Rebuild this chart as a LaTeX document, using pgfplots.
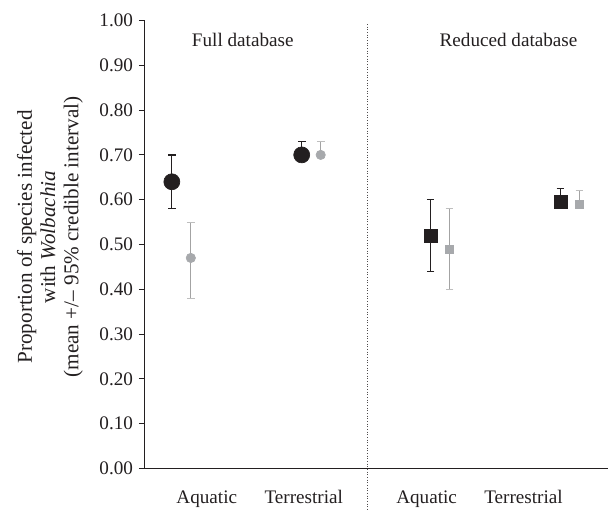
\documentclass[border=0pt]{standalone}
\usepackage{fontspec}
\setmainfont{Liberation Serif}
\usepackage{pgfplots}
\pgfplotsset{compat=1.18}

\definecolor{dark}{HTML}{231F20}
\definecolor{lgray}{HTML}{A7A9AC}
\definecolor{bargray}{HTML}{A3A3A3}

\begin{document}
\begin{tikzpicture}
\begin{axis}[
    scale only axis,
    width=278.4pt, height=269.1pt,
    xmin=145, xmax=609,
    ymin=0, ymax=1,
    axis lines*=left,
    axis line style={dark, line width=0.7pt},
    ytick={0,0.1,0.2,0.3,0.4,0.5,0.6,0.7,0.8,0.9,1},
    /pgf/number format/fixed,
    /pgf/number format/fixed zerofill,
    /pgf/number format/precision=2,
    /pgf/number format/assume math mode=true,
    yticklabel style={font=\fontsize{11.5}{13}\selectfont, text=dark},
    ytick style={dark, line width=0.6pt},
    tick align=outside,
    major tick length=3.6pt,
    xtick={207,304,427,524},
    xticklabels={Aquatic,Terrestrial,Aquatic,Terrestrial},
    xticklabel style={font=\fontsize{11.5}{13}\selectfont, text=dark, yshift=-6pt},
    xtick style={draw=none},
    clip=false,
]
% bounding box of the whole figure
\path (axis cs:0,1.0457) rectangle (axis cs:609,-0.0959);

% separator
\draw[densely dotted, color=dark!80, line width=0.6pt] (axis cs:368,0.992) -- (axis cs:368,-0.096);

% panel titles
\node[font=\fontsize{11.5}{13}\selectfont, text=dark] at (axis cs:243,0.9565) {Full database};
\node[font=\fontsize{11.5}{13}\selectfont, text=dark] at (axis cs:509,0.9565) {Reduced database};

% y label
\node[rotate=90, align=center, font=\fontsize{12.7}{13.9}\selectfont, text=dark] at (axis cs:50,0.517)
  {Proportion of species infected\\with \textit{Wolbachia}\\(mean +/\textendash{} 95\% credible interval)};

% full database, black
\addplot[only marks, mark=*, mark size=4.8pt, color=dark,
  error bars/.cd, y dir=both, y explicit,
  error bar style={dark, line width=0.8pt},
  error mark options={rotate=90, dark, mark size=2.3pt, line width=0.8pt}]
coordinates {
  (172,0.64) += (0,0.06) -= (0,0.06)
  (302,0.70) += (0,0.03) -= (0,0.01)
};
% full database, gray
\addplot[only marks, mark=*, mark size=2.8pt, color=lgray,
  error bars/.cd, y dir=both, y explicit,
  error bar style={bargray, line width=0.7pt},
  error mark options={rotate=90, bargray!70, mark size=2.3pt, line width=0.7pt}]
coordinates {
  (191,0.47) += (0,0.08) -= (0,0.09)
  (321,0.70) += (0,0.03) -= (0,0.005)
};
% reduced database, black
\addplot[only marks, mark=square*, mark size=3.9pt, color=dark,
  error bars/.cd, y dir=both, y explicit,
  error bar style={dark, line width=0.8pt},
  error mark options={rotate=90, dark, mark size=2.3pt, line width=0.8pt}]
coordinates {
  (431,0.52) += (0,0.08) -= (0,0.08)
  (561,0.595) += (0,0.03) -= (0,0.012)
};
% reduced database, gray
\addplot[only marks, mark=square*, mark size=2.4pt, color=lgray,
  error bars/.cd, y dir=both, y explicit,
  error bar style={bargray, line width=0.7pt},
  error mark options={rotate=90, bargray!70, mark size=2.3pt, line width=0.7pt}]
coordinates {
  (450,0.49) += (0,0.09) -= (0,0.09)
  (580,0.59) += (0,0.03) -= (0,0.01)
};
\end{axis}
\end{tikzpicture}
\end{document}
